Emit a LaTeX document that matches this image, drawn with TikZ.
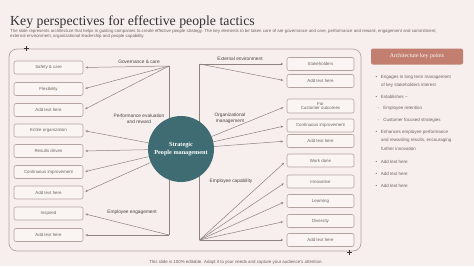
\documentclass[tikz,border=0pt]{standalone}
\usepackage{fontspec}
\setmainfont{Liberation Serif}
\setsansfont{Liberation Sans}
\usetikzlibrary{arrows.meta}
\definecolor{bg}{HTML}{F7EFED}
\definecolor{boxfill}{HTML}{FAF5F3}
\definecolor{boxline}{HTML}{B3A4A0}
\definecolor{lineclr}{HTML}{8F817D}
\definecolor{coreclr}{HTML}{3F6B73}
\definecolor{terra}{HTML}{C27E6E}
\definecolor{txt}{HTML}{6E6461}
\definecolor{labtxt}{HTML}{4A4240}
\definecolor{titleclr}{HTML}{333333}
\begin{document}
\begin{tikzpicture}[x=1pt,y=-1pt,
  lbox/.style={draw=boxline, fill=boxfill, rounded corners=2pt, line width=0.6pt, minimum width=69pt, minimum height=13pt, inner sep=0pt, font=\sffamily\fontsize{4.4}{5}\selectfont, text=txt, align=center},
  rbox/.style={lbox, minimum width=67pt},
  conn/.style={draw=lineclr, line width=0.5pt, -{Stealth[length=2.6pt,width=2.2pt]}},
  plain/.style={draw=lineclr, line width=0.5pt},
  lab/.style={font=\sffamily\fontsize{4.8}{5.6}\selectfont, text=labtxt, align=center, inner sep=0pt},
  pt/.style={anchor=west, inner sep=0pt, font=\sffamily\fontsize{4.5}{5}\selectfont, text=txt},
  crossmark/.style={draw=titleclr, line width=0.7pt}
]
\fill[bg] (0,0) rectangle (474,266);
\useasboundingbox (0,0) rectangle (474,266);

% title and description
\node[anchor=base west, inner sep=0pt, font=\fontsize{13.8}{15}\selectfont, text=titleclr] (title) at (10,25) {Key perspectives for effective people tactics};
\node[anchor=north west, inner sep=0pt, align=left, font=\sffamily\fontsize{4.35}{4.6}\selectfont, text=txt] (desc) at (10,29.3) {The slide represents architecture that helps in guiding companies to create effective people strategy. The key elements to be taken care of are governance and care, performance and reward, engagement and commitment,\\ external environment, organizational leadership and people capability.};

% outer frame
\draw[boxline, line width=0.7pt, rounded corners=8pt] (9,49) rectangle (361,251);
\draw[crossmark] (23.5,48) -- (28.5,48) (26,45.5) -- (26,50.5);
\draw[crossmark] (346.5,252) -- (351.5,252) (349,249.5) -- (349,254.5);

% left boxes
\node[lbox] (l1) at (48.5,67.5) {Safety \& care};
\node[lbox] (l2) at (48.5,89) {Flexibility};
\node[lbox] (l3) at (48.5,110) {Add text here};
\node[lbox] (l4) at (48.5,130.5) {Entire organization};
\node[lbox] (l5) at (48.5,151) {Results driven};
\node[lbox] (l6) at (48.5,172) {Continuous  improvement};
\node[lbox] (l7) at (48.5,192.5) {Add text here};
\node[lbox] (l8) at (48.5,213.5) {Inspired};
\node[lbox] (l9) at (48.5,235) {Add text here};

% right boxes
\node[rbox] (r1) at (320.5,64) {Stakeholders};
\node[rbox] (r2) at (320.5,81) {Add text here};
\node[rbox, minimum height=14pt] (r3) at (320.5,106) {For\\[-0.5pt]Customer outcomes};
\node[rbox] (r4) at (320.5,125.5) {Continuous  improvement};
\node[rbox] (r5) at (320.5,141) {Add text here};
\node[rbox] (r6) at (320.5,160.5) {Work done};
\node[rbox] (r7) at (320.5,181.5) {Innovative};
\node[rbox] (r8) at (320.5,201) {Learning};
\node[rbox] (r9) at (320.5,221) {Diversity};
\node[rbox] (r10) at (320.5,240) {Add text here};

% hubs
\coordinate (gov) at (169,66);
\coordinate (eng) at (169,235);
\coordinate (ext) at (199.5,64);
\coordinate (cap) at (199.5,240);

\draw[plain] (gov) -- (eng);
\draw[plain] (ext) -- (cap);

% core circle
\node[circle, fill=coreclr, minimum size=66pt, inner sep=0pt, align=center, text=white, font=\bfseries\fontsize{6.2}{7.4}\selectfont] (core) at (181,149) {Strategic\\People management};

% labels
\node[lab] (govlab) at (139,62) {Governance \& care};
\node[lab] (perflab) at (139,118.5) {Performance  evaluation\\and reward};
\node[lab] (englab) at (132,212) {Employee engagement};
\node[lab] (extlab) at (240,58.5) {External environment};
\node[lab] (orglab) at (230,118) {Organizational\\management};
\node[lab] (caplab) at (231,181) {Employee capability};

% connectors left
\draw[conn, shorten >=2pt] (gov) -- (l1.east);
\draw[conn, shorten >=2pt] (gov) -- (l2.east);
\draw[conn, shorten >=2pt] (gov) -- (l3.east);
\draw[conn, shorten >=2pt] (core) -- (l4.east);
\draw[conn, shorten >=2pt] (core) -- (l5.east);
\draw[conn, shorten >=2pt] (core) -- (l6.east);
\draw[conn, shorten >=2pt] (core) -- (l7.east);
\draw[conn, shorten >=2pt] (eng) -- (l8.east);
\draw[conn, shorten >=2pt] (eng) -- (l9.east);

% connectors right
\draw[conn, shorten >=3.5pt] (ext) -- (r1.west);
\draw[conn, shorten >=3.5pt] (ext) -- (r2.west);
\draw[conn, shorten >=3.5pt] (core) -- (r3.west);
\draw[conn, shorten >=3.5pt] (core) -- (r4.west);
\draw[conn, shorten >=3.5pt] (core) -- (r5.west);
\draw[conn, shorten >=3.5pt] (cap) -- (r6.west);
\draw[conn, shorten >=3.5pt] (cap) -- (r7.west);
\draw[conn, shorten >=3.5pt] (cap) -- (r8.west);
\draw[conn, shorten >=3.5pt] (cap) -- (r9.west);
\draw[conn, shorten >=3.5pt] (cap) -- (r10.west);

% right panel
\node[fill=terra, rounded corners=2pt, minimum width=92pt, minimum height=16pt, inner sep=0pt, text=white, font=\fontsize{5.8}{6}\selectfont] (head) at (417,56.5) {Architecture key points};

\node[pt] (b1) at (375.5,77) {•\hspace{3.5pt}Engages in long term management};
\node[pt] (b1b) at (381,85) {of key stakeholders interest};
\node[pt] (b2) at (375.5,97) {•\hspace{3.5pt}Establishes –};
\node[pt] (b3) at (377.5,108.5) {◦\hspace{4pt}Employee retention};
\node[pt] (b4) at (377.5,120.5) {◦\hspace{4pt}Customer focused strategies};
\node[pt] (b5) at (375.5,132) {•\hspace{3.5pt}Enhances employee  performance};
\node[pt] (b5b) at (381,140.5) {and rewarding results, encouraging};
\node[pt] (b5c) at (381,149) {further innovation};
\node[pt] (b6) at (375.5,162) {•\hspace{3.5pt}Add text here};
\node[pt] (b7) at (375.5,174) {•\hspace{3.5pt}Add text here};
\node[pt] (b8) at (375.5,186) {•\hspace{3.5pt}Add text here};

% footer
\node[inner sep=0pt, font=\sffamily\fontsize{4.4}{5}\selectfont, text=txt] (foot) at (236,262.5) {This slide is 100\% editable. Adapt it to your needs and capture your audience's attention.};
\end{tikzpicture}
\end{document}
